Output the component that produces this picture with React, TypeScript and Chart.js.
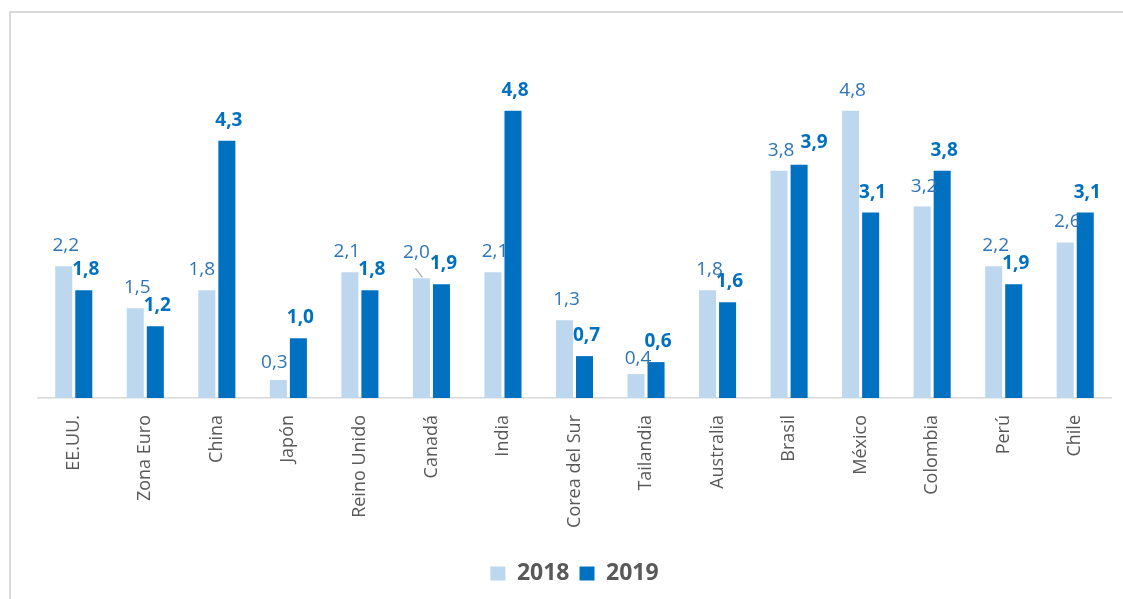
import { useEffect, useRef } from "react";
import { Chart, registerables } from "chart.js";

Chart.register(...registerables);

const categories = [
  "EE.UU.",
  "Zona Euro",
  "China",
  "Japón",
  "Reino Unido",
  "Canadá",
  "India",
  "Corea del Sur",
  "Tailandia",
  "Australia",
  "Brasil",
  "México",
  "Colombia",
  "Perú",
  "Chile",
];
const values2018 = [2.2, 1.5, 1.8, 0.3, 2.1, 2.0, 2.1, 1.3, 0.4, 1.8, 3.8, 4.8, 3.2, 2.2, 2.6];
const values2019 = [1.8, 1.2, 4.3, 1.0, 1.8, 1.9, 4.8, 0.7, 0.6, 1.6, 3.9, 3.1, 3.8, 1.9, 3.1];
const seriesLabels = ["2018", "2019"];

const FONT = "'Open Sans', 'Noto Sans', 'DejaVu Sans', sans-serif";
const COLOR_2018 = "#BDD7EE";
const COLOR_2019 = "#0070C0";
const LABEL_2018 = "#2E75B6";
const LABEL_2019 = "#0070C0";

// Placement nudges for labels that the original moved to avoid overlaps
// key: "<seriesIndex>:<category>" -> [dx, dy] in pixels (style only)
const LABEL_NUDGES: Record<string, [number, number]> = {
  "0:China": [-7, 0],
  "0:Japón": [-6, 3],
  "0:Reino Unido": [-5, 0],
  "0:Canadá": [-7, -5],
  "0:Tailandia": [0, 5],
  "1:Brasil": [13, -2],
};
const LEADER_LINES = ["0:Canadá"];

const barLabelPlugin = {
  id: "barLabels",
  afterDatasetsDraw(chart: any) {
    const ctx = chart.ctx;
    chart.data.datasets.forEach((ds: any, di: number) => {
      const meta = chart.getDatasetMeta(di);
      meta.data.forEach((bar: any, i: number) => {
        const v = ds.data[i] as number;
        const text = v.toFixed(1).replace(".", ",");
        const key = `${di}:${categories[i]}`;
        const nudge = LABEL_NUDGES[key] || [0, 0];
        const x = bar.x + 2 + nudge[0];
        const y = bar.y - 15 + nudge[1];
        ctx.save();
        if (LEADER_LINES.includes(key)) {
          ctx.strokeStyle = "#A6A6A6";
          ctx.lineWidth = 1.2;
          ctx.beginPath();
          ctx.moveTo(bar.x - 6, bar.y - 10);
          ctx.lineTo(bar.x + 1, bar.y - 1);
          ctx.stroke();
        }
        ctx.font = di === 0 ? `400 19px ${FONT}` : `700 19px ${FONT}`;
        ctx.fillStyle = di === 0 ? LABEL_2018 : LABEL_2019;
        ctx.textAlign = "center";
        ctx.textBaseline = "alphabetic";
        ctx.fillText(text, x, y);
        ctx.restore();
      });
    });
  },
};

export default function App() {
  const canvasRef = useRef<HTMLCanvasElement | null>(null);

  useEffect(() => {
    if (!canvasRef.current) return;
    const chart = new Chart(canvasRef.current, {
      type: "bar",
      data: {
        labels: categories,
        datasets: [
          {
            label: seriesLabels[0],
            data: values2018,
            backgroundColor: COLOR_2018,
            borderWidth: 0,
            barPercentage: 0.85,
            categoryPercentage: 0.56,
          },
          {
            label: seriesLabels[1],
            data: values2019,
            backgroundColor: COLOR_2019,
            borderWidth: 0,
            barPercentage: 0.85,
            categoryPercentage: 0.56,
          },
        ],
      },
      options: {
        animation: false,
        responsive: true,
        maintainAspectRatio: false,
        layout: { padding: { left: 38, right: 12, top: 39, bottom: 4 } },
        scales: {
          x: {
            grid: { display: false, drawTicks: false },
            border: { color: "#D9D9D9", width: 1.5 },
            ticks: {
              color: "#595959",
              font: { family: FONT, size: 18 },
              maxRotation: 90,
              minRotation: 90,
              padding: 17,
              autoSkip: false,
            },
            afterFit: (s: any) => {
              s.height = 154;
            },
          },
          y: { display: false, min: 0, max: 6 },
        },
        plugins: {
          legend: {
            position: "bottom",
            labels: {
              color: "#595959",
              font: { family: FONT, size: 23, weight: "bold" },
              boxWidth: 15,
              boxHeight: 14,
              padding: 10,
            },
          },
          tooltip: { enabled: false },
        },
      },
      plugins: [barLabelPlugin],
    });
    return () => chart.destroy();
  }, []);

  return (
    <div
      style={{
        position: "fixed",
        left: 0,
        top: 0,
        width: 1123,
        height: 599,
        background: "#ffffff",
        overflow: "hidden",
      }}
    >
      <div
        style={{
          position: "absolute",
          left: 9,
          top: 11,
          width: 1300,
          height: 800,
          border: "2px solid #D9D9D9",
        }}
      />
      <canvas ref={canvasRef} />
    </div>
  );
}
